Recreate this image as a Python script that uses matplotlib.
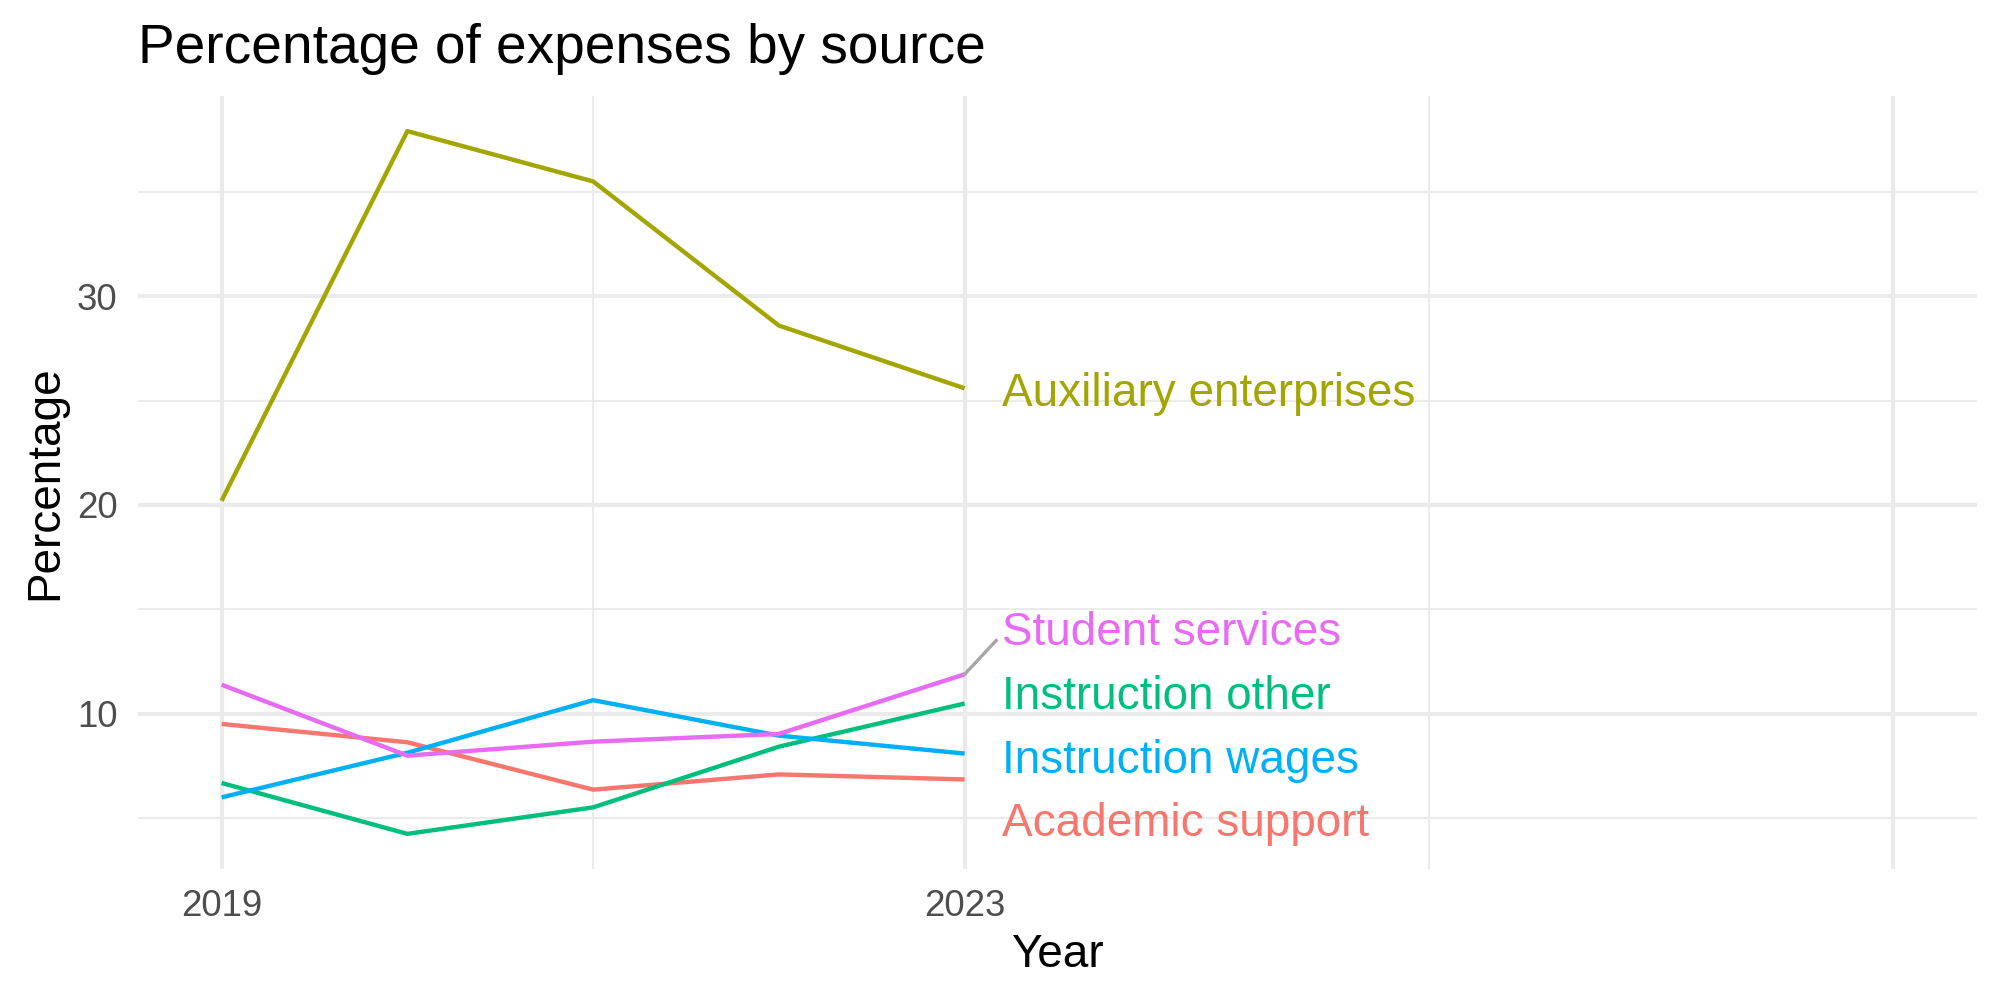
import matplotlib
matplotlib.use('Agg')
import matplotlib.pyplot as plt
from matplotlib.ticker import FixedLocator, NullFormatter

plt.rcParams['font.family'] = ['Liberation Sans', 'DejaVu Sans']

# %% data
years = [2019, 2020, 2021, 2022, 2023]
sources = ['Academic support', 'Auxiliary enterprises', 'Instruction other',
           'Instruction wages', 'Student services']
academic_support = [9.5, 8.62, 6.35, 7.08, 6.84]
auxiliary_enterprises = [20.2, 37.92, 35.51, 28.6, 25.59]
instruction_other = [6.67, 4.23, 5.5, 8.41, 10.48]
instruction_wages = [5.98, 8.12, 10.64, 8.94, 8.08]
student_services = [11.38, 7.98, 8.65, 9.02, 11.88]
series = [academic_support, auxiliary_enterprises, instruction_other,
          instruction_wages, student_services]

# ggplot hue palette, 5 levels
colors = ['#F8766D', '#A3A500', '#00BF7D', '#00B0F6', '#E76BF3']

# baselines of the repelled end labels
label_y = [4.13, 24.76, 10.24, 7.16, 13.27]

x_breaks = [2019, 2023, 2028]
x_labels = ['2019', '2023', '']
x_minor = [2021, 2025.5]
y_breaks = [10, 20, 30]
y_minor = [5, 15, 25, 35]

# %% plot
fig = plt.figure(figsize=(20 / 3, 10 / 3), dpi=300)
ax = fig.add_axes([0.069, 0.131, 0.9195, 0.773])

for s in ax.spines.values():
    s.set_visible(False)

ax.xaxis.set_major_locator(FixedLocator(x_breaks))
ax.set_xticklabels(x_labels)
ax.xaxis.set_minor_locator(FixedLocator(x_minor))
ax.yaxis.set_major_locator(FixedLocator(y_breaks))
ax.yaxis.set_minor_locator(FixedLocator(y_minor))
ax.xaxis.set_minor_formatter(NullFormatter())
ax.yaxis.set_minor_formatter(NullFormatter())
ax.grid(which='major', color='#EBEBEB', lw=1.0)
ax.grid(which='minor', color='#EBEBEB', lw=0.5)
ax.set_axisbelow(True)
ax.tick_params(which='both', length=0)
ax.tick_params(axis='both', labelsize=8.8, labelcolor='#4D4D4D', pad=4.9)

for vals, c in zip(series, colors):
    ax.plot(years, vals, color=c, lw=1.05, solid_capstyle='butt')

# repel segment for the one label that got pushed away
ax.plot([2023, 2023.17], [student_services[-1], 13.5], color='#A6A6A6', lw=0.8)

for name, ly, c in zip(sources, label_y, colors):
    ax.text(2023.2, ly, name, color=c, fontsize=11.0, va='baseline', ha='left')

ax.set_xlim(2018.55, 2028.45)
lo = min(min(v) for v in series)
hi = max(max(v) for v in series)
pad = (hi - lo) * 0.05
ax.set_ylim(lo - pad, hi + pad)

ax.set_title('Percentage of expenses by source', loc='left', fontsize=13.2, pad=7.9)
ax.set_xlabel('Year', fontsize=11)
ax.set_ylabel('Percentage', fontsize=11)
ax.xaxis.set_label_coords(0.5, -0.083)
ax.yaxis.set_label_coords(-0.0386, 0.5)

fig.savefig('out.png', dpi=300, facecolor='white')
